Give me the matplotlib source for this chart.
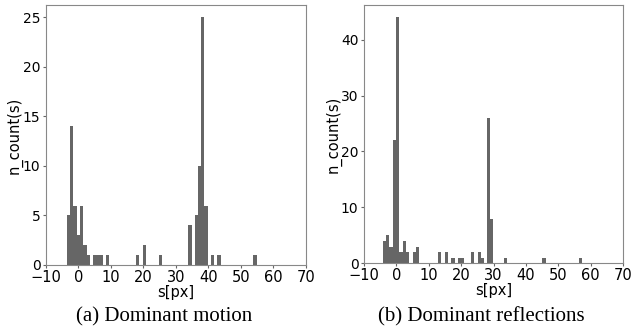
import matplotlib
matplotlib.use("Agg")
import matplotlib.pyplot as plt

# (a) dominant motion: bin centers and counts
motion_s = [-3.1, -2.1, -1.1, -0.05, 1.0, 2.0, 3.0, 4.9, 5.9, 6.9, 9.0,
            18.2, 20.2, 25.2, 34.3, 36.2, 37.2, 38.2, 39.2, 41.2, 43.2, 54.3]
motion_n = [5, 14, 6, 3, 6, 2, 1, 1, 1, 1, 1,
            1, 2, 1, 4, 5, 10, 25, 6, 1, 1, 1]

# (b) dominant reflections
refl_s = [-3.7, -2.7, -1.7, -0.65, 0.4, 1.4, 2.4, 3.5, 5.5, 6.5, 13.4, 15.5,
          17.5, 19.6, 20.5, 23.5, 25.6, 26.6, 28.4, 29.4, 33.6, 45.6, 56.8]
refl_n = [4, 5, 3, 22, 44, 2, 4, 2, 2, 3, 2, 2,
          1, 1, 1, 2, 2, 1, 26, 8, 1, 1, 1]

xticks = [-10, 0, 10, 20, 30, 40, 50, 60, 70]
captions = ["(a) Dominant motion", "(b) Dominant reflections"]

bar_color = "#666666"
fig = plt.figure(figsize=(6.31, 3.35), dpi=100)
ax1 = fig.add_axes([0.0729, 0.209, 0.412, 0.776])
ax2 = fig.add_axes([0.5769, 0.214, 0.4105, 0.771])

for ax, s, n in [(ax1, motion_s, motion_n), (ax2, refl_s, refl_n)]:
    ax.bar(s, n, width=1.0, color=bar_color, edgecolor="none")
    ax.set_xlim(-10, 70)
    ax.set_xticks(xticks)
    ax.tick_params(labelsize=10.5, length=2.5, color="#666666")
    ax.tick_params(axis="x", pad=1)
    ax.tick_params(axis="y", pad=1.5, labelsize=10)
    ax.set_xlabel("s[px]", fontsize=10.5, labelpad=0)
    ax.set_ylabel("n_count(s)", fontsize=10.5)
    for sp in ax.spines.values():
        sp.set_color("#888888")

ax1.set_yticks([0, 5, 10, 15, 20, 25])
ax2.set_yticks([0, 10, 20, 30, 40])
ax1.yaxis.set_label_coords(-0.09, 0.5)
ax2.yaxis.set_label_coords(-0.086, 0.5)

fig.text(0.26, 0.054, captions[0], ha="center", va="center",
         family="Liberation Serif", fontsize=15)
fig.text(0.763, 0.054, captions[1], ha="center", va="center",
         family="Liberation Serif", fontsize=15)

fig.savefig("out.png", dpi=100)
